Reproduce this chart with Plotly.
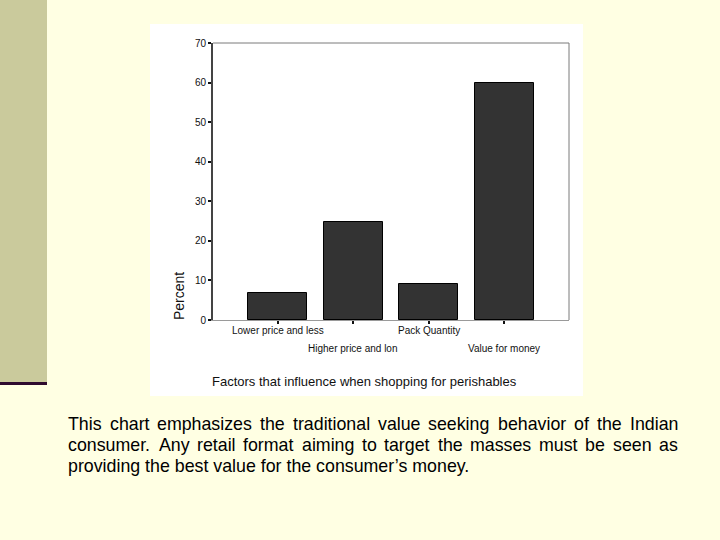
import plotly.graph_objects as go

# ---- data ----
categories = ["Lower price and less", "Higher price and lon", "Pack Quantity", "Value for money"]
percent = [6.7, 24.7, 9.1, 60.0]
y_ticks = [0, 10, 20, 30, 40, 50, 60, 70]
x_title = "Factors that influence when shopping for perishables"
y_title = "Percent"
caption_lines = [
    "This chart emphasizes the traditional value seeking behavior of the Indian",
    "consumer. Any retail format aiming to target the masses must be seen as",
    "providing the best value for the consumer\u2019s money.",
]

# ---- layout geometry (pixels) ----
W, H = 720, 540
L, R, T, B = 213, 569, 43, 320


def px(x):
    return (x - L) / (R - L)


def py(y):
    return (B - y) / (B - T)


FONT = "Liberation Sans, Arial, sans-serif"

fig = go.Figure()
fig.add_trace(go.Bar(
    x=list(range(len(categories))), y=percent, width=0.777,
    marker=dict(color="#333333", line=dict(color="#000000", width=1)),
    hoverinfo="skip", showlegend=False,
))

shapes = [
    # left decorative band
    dict(type="rect", xref="paper", yref="paper", x0=px(0), x1=px(47), y0=py(0), y1=py(382),
         fillcolor="#CACA9C", line=dict(width=0), layer="below"),
    dict(type="rect", xref="paper", yref="paper", x0=px(0), x1=px(47), y0=py(382), y1=py(385),
         fillcolor="#2E0A2E", line=dict(width=0), layer="below"),
    # white chart picture
    dict(type="rect", xref="paper", yref="paper", x0=px(150), x1=px(583), y0=py(24), y1=py(396),
         fillcolor="#FFFFFF", line=dict(width=0), layer="below"),
    # top and right frame
    dict(type="line", xref="paper", yref="paper", x0=0, x1=1, y0=1, y1=1,
         line=dict(color="#7A7A7A", width=1)),
    dict(type="line", xref="paper", yref="paper", x0=1, x1=1, y0=0, y1=1,
         line=dict(color="#7A7A7A", width=1)),
]

annotations = []
# category labels, alternating rows
for i, c in enumerate(categories):
    annotations.append(dict(
        x=i, xref="x", y=py(330 if i % 2 == 0 else 348), yref="paper",
        text=c, showarrow=False, xanchor="center", yanchor="middle",
        font=dict(family=FONT, size=10, color="#111111"),
    ))
annotations.append(dict(
    x=px(364.5), xref="paper", y=py(381), yref="paper", text=x_title, showarrow=False,
    xanchor="center", yanchor="middle", font=dict(family=FONT, size=13, color="#111111"),
))
annotations.append(dict(
    x=px(179), xref="paper", y=py(296), yref="paper", text=y_title, showarrow=False,
    textangle=-90, xanchor="center", yanchor="middle",
    font=dict(family=FONT, size=14, color="#111111"),
))

# justified caption using Arial advance widths
AW = {' ': 278, 'a': 556, 'b': 556, 'c': 500, 'd': 556, 'e': 556, 'f': 278, 'g': 556, 'h': 556,
      'i': 222, 'j': 222, 'k': 500, 'l': 222, 'm': 833, 'n': 556, 'o': 556, 'p': 556, 'q': 556,
      'r': 333, 's': 500, 't': 278, 'u': 556, 'v': 500, 'w': 722, 'x': 500, 'y': 500, 'z': 500,
      'A': 667, 'I': 278, 'T': 611, '.': 278, '\u2019': 222}
CAP_SIZE = 17.8
CAP_X0, CAP_X1 = 67, 677
cap_y = [424, 445, 466]


def tw(s):
    return sum(AW.get(ch, 556) for ch in s) / 1000 * CAP_SIZE


for li, line in enumerate(caption_lines):
    if li == len(caption_lines) - 1:
        annotations.append(dict(
            x=px(CAP_X0), xref="paper", y=py(cap_y[li]), yref="paper", text=line,
            showarrow=False, xanchor="left", yanchor="middle", borderpad=0,
            font=dict(family=FONT, size=CAP_SIZE, color="#000000"),
        ))
        continue
    words = line.split(" ")
    widths = [tw(w) for w in words]
    gap = (CAP_X1 - CAP_X0 - sum(widths)) / (len(words) - 1)
    x = CAP_X0
    for w, wd in zip(words, widths):
        annotations.append(dict(
            x=px(x), xref="paper", y=py(cap_y[li]), yref="paper", text=w,
            showarrow=False, xanchor="left", yanchor="middle", borderpad=0,
            font=dict(family=FONT, size=CAP_SIZE, color="#000000"),
        ))
        x += wd + gap

fig.update_layout(
    width=W, height=H,
    margin=dict(l=L, r=W - R, t=T, b=H - B, pad=0),
    paper_bgcolor="#FFFFE3", plot_bgcolor="#FFFFFF",
    shapes=shapes, annotations=annotations,
    bargap=0,
    xaxis=dict(
        range=[-0.857, 3.857], tickvals=list(range(len(categories))), showticklabels=False,
        ticks="outside", ticklen=3, tickwidth=2, tickcolor="#111111",
        showline=True, linecolor="#9A9A9A", linewidth=1, showgrid=False, zeroline=False,
        fixedrange=True,
    ),
    yaxis=dict(
        range=[0, 70], tickvals=y_ticks, ticks="outside", ticklen=3, tickwidth=2,
        tickcolor="#111111", tickfont=dict(family=FONT, size=10, color="#111111"),
        showline=True, linecolor="#444444", linewidth=2, showgrid=False, zeroline=False,
        fixedrange=True,
    ),
)

fig.write_html(
    "out.html",
    config={"displayModeBar": False},
    post_script="document.body.style.margin='0';document.body.style.padding='0';"
                "document.body.style.overflow='hidden';"
                "document.documentElement.style.background='#FFFFE3';",
)
